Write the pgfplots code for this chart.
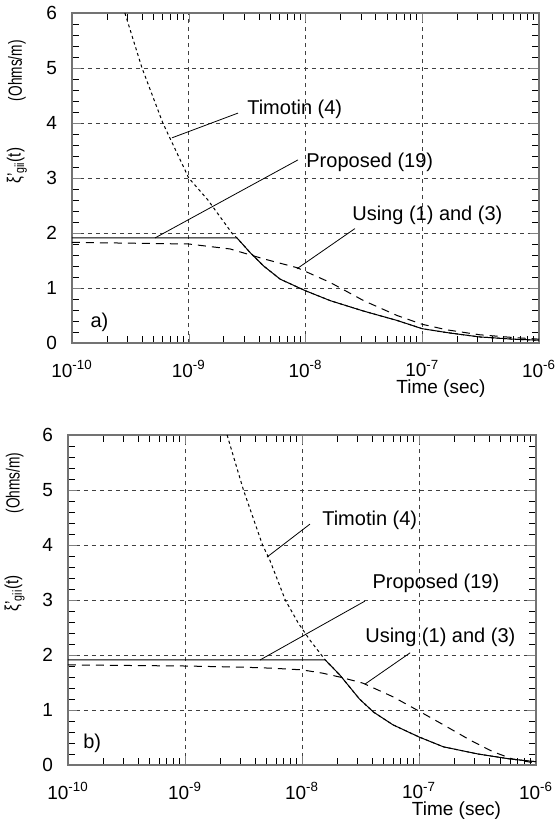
\documentclass[border=0pt]{standalone}
\usepackage{fontspec}
\setmainfont{Liberation Sans}
\usepackage{pgfplots}
\pgfplotsset{compat=1.18}

\pgfplotsset{
  myframe/.style={
    scale only axis, height=165pt, clip=false,
    xmin=1e-10, xmax=1e-6, ymin=0, ymax=6,
    ytick={0,1,2,3,4,5,6},
    yticklabels={0,1,2,3,4,5,6},
    minor ytick={0.2,0.4,0.6,0.8,1.2,1.4,1.6,1.8,2.2,2.4,2.6,2.8,3.2,3.4,3.6,3.8,4.2,4.4,4.6,4.8,5.2,5.4,5.6,5.8},
    xtick={1e-10,1e-9,1e-8,1e-7,1e-6},
    minor xtick={2e-10,3e-10,4e-10,5e-10,6e-10,7e-10,8e-10,9e-10,2e-9,3e-9,4e-9,5e-9,6e-9,7e-9,8e-9,9e-9,2e-8,3e-8,4e-8,5e-8,6e-8,7e-8,8e-8,9e-8,2e-7,3e-7,4e-7,5e-7,6e-7,7e-7,8e-7,9e-7},
    xticklabels={10\textsuperscript{-10},10\textsuperscript{-9},10\textsuperscript{-8},10\textsuperscript{-7},10\textsuperscript{-6}},
    xmajorgrids, ymajorgrids,
    major grid style={black!75, line width=0.4pt, dash pattern=on 2pt off 2pt},
    axis line style={black!55, line width=0.6pt},
    every minor tick/.style={black, line width=0.45pt},
    minor tick length=3.5pt,
    ticklabel style={font=\fontsize{9.5}{11}\selectfont},
    xticklabel style={yshift=-5pt},
    yticklabel style={xshift=-4pt},
    xlabel={Time (sec)},
    xlabel style={font=\fontsize{9.5}{11}\selectfont, anchor=center},
  },
}
\tikzset{
  mynote/.style={font=\fontsize{10}{12}\selectfont, anchor=west, inner sep=0pt},
  ylab/.style={font=\fontsize{9.5}{11}\selectfont, rotate=90, inner sep=0pt, anchor=center},
  stTim/.style={black, line width=0.5pt, dash pattern=on 1.5pt off 1.5pt},
  stProp/.style={black, line width=0.5pt},
  stUse/.style={black, line width=0.5pt, dash pattern=on 4pt off 3pt},
}

\begin{document}
\begin{tikzpicture}
\useasboundingbox (0,0) rectangle (278.5pt,-414.5pt);

% panel a
\begin{axis}[xmode=log, myframe, width=233.5pt, at={(36pt,-171.5pt)}, anchor=south west,
  xlabel style={at={(axis description cs:0.79,0)}, yshift=-23pt}]
  \addplot[stTim] coordinates {
    (2.84e-10,6) (3.98e-10,5) (6.0e-10,4) (1e-9,3) (1.46e-9,2.6)
    (2.34e-9,2.0) (2.59e-9,1.91) (3.37e-9,1.64) (4.38e-9,1.40) (6.08e-9,1.16)
    (1e-8,0.95) (1.63e-8,0.77) (3.15e-8,0.58) (6.09e-8,0.41) (1e-7,0.26)
    (1.62e-7,0.19) (3.1e-7,0.11) (6.0e-7,0.07) (1e-6,0.05)};
  \addplot[stProp] coordinates {
    (1e-10,1.91) (2.59e-9,1.91) (3.37e-9,1.64) (4.38e-9,1.40) (6.08e-9,1.16)
    (1e-8,0.95) (1.63e-8,0.77) (3.15e-8,0.58) (6.09e-8,0.41) (1e-7,0.26)
    (1.62e-7,0.19) (3.1e-7,0.11) (6.0e-7,0.07) (1e-6,0.05)};
  \addplot[stUse] coordinates {
    (1e-10,1.83) (1e-9,1.80) (2.26e-9,1.71) (4.38e-9,1.53) (8.45e-9,1.37)
    (1.63e-8,1.10) (3.15e-8,0.77) (6.09e-8,0.50) (1e-7,0.34)
    (1.62e-7,0.24) (3.1e-7,0.15) (6e-7,0.10) (1e-6,0.07)};
  \draw[black, line width=0.4pt] (axis cs:7.18e-10,3.73) -- (axis cs:2.64e-9,4.18);
  \node[mynote] at (axis cs:3.15e-9,4.24) {Timotin (4)};
  \draw[black, line width=0.4pt] (axis cs:5.14e-10,1.91) -- (axis cs:8.63e-9,3.33);
  \node[mynote] at (axis cs:1.01e-8,3.29) {Proposed (19)};
  \draw[black, line width=0.4pt] (axis cs:8.45e-9,1.35) -- (axis cs:2.65e-8,2.08);
  \node[mynote] at (axis cs:2.5e-8,2.33) {Using (1) and (3)};
  \node[mynote] at (axis cs:1.43e-10,0.38) {a)};
  \node[ylab] at (axis description cs:-0.118,0.825) {\scalebox{0.72}[1]{(Ohms/m)}};
  \node[ylab] at (axis description cs:-0.118,0.537) {\scalebox{0.8}[1]{ξ’\textsubscript{gii}(t)}};
\end{axis}

% panel b
\begin{axis}[xmode=log, myframe, width=234pt, at={(34pt,-382.5pt)}, anchor=south west,
  xlabel style={at={(axis description cs:0.83,0)}, yshift=-23pt}]
  \addplot[stTim] coordinates {
    (2.29e-9,6) (3.16e-9,5) (4.6e-9,4) (5.3e-9,3.73) (7.2e-9,3.0)
    (9.3e-9,2.58) (1.17e-8,2.27) (1.58e-8,1.91) (2.1e-8,1.64) (3.1e-8,1.2)
    (4.1e-8,0.96) (6.0e-8,0.73) (1e-7,0.51) (1.62e-7,0.33) (3.2e-7,0.2)
    (6.0e-7,0.11) (9e-7,0.07) (1e-6,0.06)};
  \addplot[stProp] coordinates {
    (1e-10,1.91) (1.58e-8,1.91) (2.1e-8,1.64) (3.1e-8,1.2)
    (4.1e-8,0.96) (6.0e-8,0.73) (1e-7,0.51) (1.62e-7,0.33) (3.2e-7,0.2)
    (6.0e-7,0.11) (9e-7,0.07) (1e-6,0.06)};
  \addplot[stUse] coordinates {
    (1e-10,1.82) (1e-9,1.80) (3e-9,1.78) (5.6e-9,1.76) (1e-8,1.73)
    (1.5e-8,1.67) (2.1e-8,1.6) (3.3e-8,1.49) (6.0e-8,1.24) (1e-7,0.98)
    (1.62e-7,0.73) (2.75e-7,0.45) (4.3e-7,0.24) (6.3e-7,0.11) (9e-7,0.05)
    (1e-6,0.04)};
  \draw[black, line width=0.4pt] (axis cs:5.02e-9,3.78) -- (axis cs:1.17e-8,4.38);
  \node[mynote] at (axis cs:1.48e-8,4.45) {Timotin (4)};
  \draw[black, line width=0.4pt] (axis cs:4.38e-9,1.91) -- (axis cs:3.45e-8,2.98);
  \node[mynote] at (axis cs:3.98e-8,3.31) {Proposed (19)};
  \draw[black, line width=0.4pt] (axis cs:3.45e-8,1.47) -- (axis cs:8.4e-8,2.04);
  \node[mynote] at (axis cs:3.45e-8,2.33) {Using (1) and (3)};
  \node[mynote] at (axis cs:1.34e-10,0.4) {b)};
  \node[ylab] at (axis description cs:-0.114,0.855) {\scalebox{0.72}[1]{(Ohms/m)}};
  \node[ylab] at (axis description cs:-0.114,0.52) {\scalebox{0.8}[1]{ξ’\textsubscript{gii}(t)}};
\end{axis}
\end{tikzpicture}
\end{document}
